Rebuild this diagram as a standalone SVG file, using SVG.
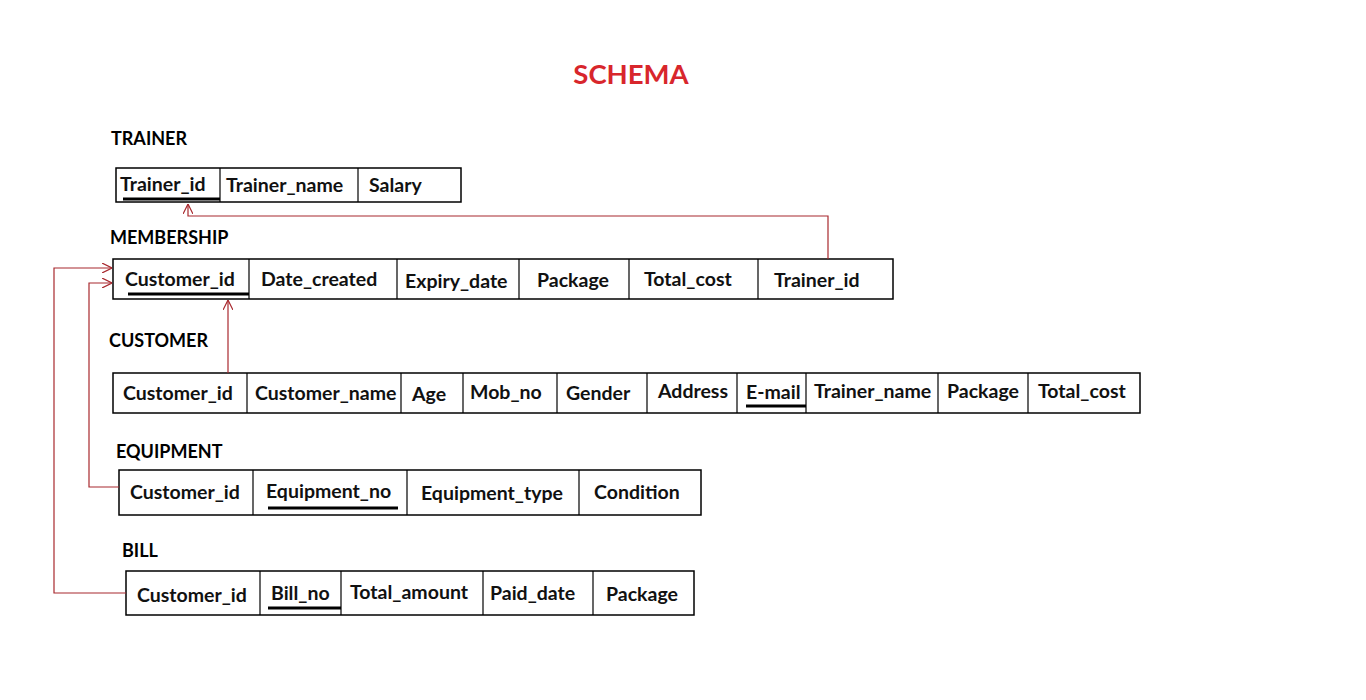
<svg xmlns="http://www.w3.org/2000/svg" width="1366" height="700" viewBox="0 0 1366 700">
<style>
.bg{fill:#ffffff}
.title{font-family:Lato,"Open Sans","Liberation Sans",sans-serif;font-weight:bold;font-size:27.5px;fill:#d8262c}
.tname{font-family:Lato,"Open Sans","Liberation Sans",sans-serif;font-weight:bold;font-size:18px;fill:#000}
.cell{font-family:Lato,"Open Sans","Liberation Sans",sans-serif;font-weight:bold;font-size:19.5px;fill:#111}
.box{fill:none;stroke:#000;stroke-width:1.5}
.div{stroke:#000;stroke-width:1.2}
.key{stroke:#000;stroke-width:3}
.conn{fill:none;stroke:#a8282e;stroke-width:1.2}
</style>
<defs>
<marker id="arr" viewBox="0 0 10 10" refX="10" refY="5" markerWidth="10" markerHeight="10" markerUnits="userSpaceOnUse" orient="auto">
<path d="M0,0 L10,5 L0,10" fill="none" stroke="#a8282e" stroke-width="1.2"/>
</marker>
</defs>
<rect class="bg" x="0" y="0" width="1366" height="700"/>
<text class="title" x="631" y="84" text-anchor="middle">SCHEMA</text>

<g id="trainer">
<text class="tname" x="111" y="145">TRAINER</text>
<rect class="box" x="116" y="168" width="345" height="34"/>
<line class="div" x1="220" y1="168" x2="220" y2="202"/>
<line class="div" x1="358" y1="168" x2="358" y2="202"/>
<text class="cell" x="120" y="191">Trainer_id</text>
<text class="cell" x="226" y="192">Trainer_name</text>
<text class="cell" x="369" y="192">Salary</text>
<line class="key" x1="123" y1="199" x2="220" y2="199"/>
</g>

<g id="membership">
<text class="tname" x="110" y="244">MEMBERSHIP</text>
<rect class="box" x="113" y="259" width="780" height="40"/>
<line class="div" x1="249" y1="259" x2="249" y2="299"/>
<line class="div" x1="397" y1="259" x2="397" y2="299"/>
<line class="div" x1="519" y1="259" x2="519" y2="299"/>
<line class="div" x1="629" y1="259" x2="629" y2="299"/>
<line class="div" x1="758" y1="259" x2="758" y2="299"/>
<text class="cell" x="125" y="286">Customer_id</text>
<text class="cell" x="261" y="286">Date_created</text>
<text class="cell" x="405" y="288">Expiry_date</text>
<text class="cell" x="537" y="287">Package</text>
<text class="cell" x="644" y="286">Total_cost</text>
<text class="cell" x="774" y="287">Trainer_id</text>
<line class="key" x1="128" y1="294" x2="249" y2="294"/>
</g>

<g id="customer">
<text class="tname" x="109" y="347">CUSTOMER</text>
<rect class="box" x="113" y="373" width="1027" height="40"/>
<line class="div" x1="247" y1="373" x2="247" y2="413"/>
<line class="div" x1="401" y1="373" x2="401" y2="413"/>
<line class="div" x1="463" y1="373" x2="463" y2="413"/>
<line class="div" x1="557" y1="373" x2="557" y2="413"/>
<line class="div" x1="647" y1="373" x2="647" y2="413"/>
<line class="div" x1="737" y1="373" x2="737" y2="413"/>
<line class="div" x1="806" y1="373" x2="806" y2="413"/>
<line class="div" x1="938" y1="373" x2="938" y2="413"/>
<line class="div" x1="1028" y1="373" x2="1028" y2="413"/>
<text class="cell" x="123" y="400">Customer_id</text>
<text class="cell" x="255" y="400">Customer_name</text>
<text class="cell" x="412" y="401">Age</text>
<text class="cell" x="470" y="399">Mob_no</text>
<text class="cell" x="566" y="400">Gender</text>
<text class="cell" x="658" y="398">Address</text>
<text class="cell" x="746" y="399">E-mail</text>
<text class="cell" x="814" y="398">Trainer_name</text>
<text class="cell" x="947" y="398">Package</text>
<text class="cell" x="1038" y="398">Total_cost</text>
<line class="key" x1="746" y1="406" x2="806" y2="406"/>
</g>

<g id="equipment">
<text class="tname" x="116" y="458">EQUIPMENT</text>
<rect class="box" x="119" y="470" width="582" height="45"/>
<line class="div" x1="253" y1="470" x2="253" y2="515"/>
<line class="div" x1="407" y1="470" x2="407" y2="515"/>
<line class="div" x1="579" y1="470" x2="579" y2="515"/>
<text class="cell" x="130" y="499">Customer_id</text>
<text class="cell" x="266" y="498">Equipment_no</text>
<text class="cell" x="421" y="500">Equipment_type</text>
<text class="cell" x="594" y="499">Condition</text>
<line class="key" x1="268" y1="508" x2="398" y2="508"/>
</g>

<g id="bill">
<text class="tname" x="122" y="557">BILL</text>
<rect class="box" x="126" y="571" width="568" height="44"/>
<line class="div" x1="260" y1="571" x2="260" y2="615"/>
<line class="div" x1="341" y1="571" x2="341" y2="615"/>
<line class="div" x1="483" y1="571" x2="483" y2="615"/>
<line class="div" x1="593" y1="571" x2="593" y2="615"/>
<text class="cell" x="137" y="602">Customer_id</text>
<text class="cell" x="271" y="600">Bill_no</text>
<text class="cell" x="350" y="599">Total_amount</text>
<text class="cell" x="490" y="600">Paid_date</text>
<text class="cell" x="606" y="601">Package</text>
<line class="key" x1="268" y1="608" x2="341" y2="608"/>
</g>

<g id="connectors">
<polyline class="conn" points="828,259 828,216 188,216 188,204" marker-end="url(#arr)"/>
<polyline class="conn" points="228,373 228,300" marker-end="url(#arr)"/>
<polyline class="conn" points="119,487 89,487 89,283 112,283" marker-end="url(#arr)"/>
<polyline class="conn" points="126,593 54,593 54,268 112,268" marker-end="url(#arr)"/>
</g>
</svg>
